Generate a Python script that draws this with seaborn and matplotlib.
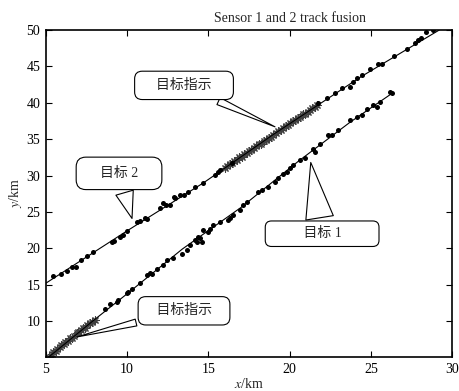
import matplotlib
matplotlib.use("Agg")
import matplotlib.pyplot as plt
import seaborn as sns
import pandas as pd

# fused tracks (knots)
track1_x = [5.15, 8.0, 10.2, 13.4, 17.0, 20.5, 23.7, 26.3]
track1_y = [5.0, 10.2, 14.1, 19.9, 25.6, 31.9, 37.3, 41.3]
track2_x = [5.0, 10.0, 14.7, 19.1, 24.4, 29.2]
track2_y = [15.2, 22.4, 29.0, 35.8, 43.6, 50.0]

# sensor measurements (dots)
t1_dot_x = [8.63, 8.94, 9.35, 9.45, 9.97, 10.07, 10.28, 10.79, 11.2, 11.4, 11.5, 11.82,
            12.22, 12.43, 12.85, 13.36, 13.67, 13.87, 14.17, 14.27, 14.38, 14.48, 14.58,
            14.69, 15.0, 15.1, 15.31, 15.71, 16.22, 16.33, 16.53, 16.94, 17.15, 17.36,
            18.07, 18.28, 18.69, 19.1, 19.31, 19.62, 19.82, 20.02, 20.23, 20.64, 20.95,
            21.46, 21.56, 21.87, 22.38, 22.59, 23.0, 23.72, 24.13, 24.44, 24.74, 25.15,
            25.36, 25.57, 26.18, 26.3]
t1_dot_y = [11.7, 12.4, 12.63, 12.86, 13.78, 14.0, 14.33, 15.16, 16.3, 16.6, 16.5, 17.2,
            17.67, 18.36, 18.6, 19.28, 19.74, 20.43, 21.1, 20.9, 21.57, 21.35, 20.9,
            22.5, 22.25, 22.7, 23.2, 23.64, 23.87, 24.1, 24.56, 25.24, 25.93, 26.4,
            27.76, 28.0, 28.44, 29.13, 29.6, 30.28, 30.5, 30.97, 31.4, 32.1, 32.36,
            33.7, 33.2, 34.4, 35.55, 35.55, 36.24, 37.6, 38.1, 38.3, 39.1, 39.7,
            39.45, 40.14, 41.5, 41.3]
t2_dot_x = [5.45, 5.9, 6.27, 6.58, 6.85, 7.14, 7.51, 7.92, 9.05, 9.19, 9.56, 9.72, 10.0,
            10.58, 10.8, 11.1, 11.24, 12.02, 12.23, 12.39, 12.64, 12.88, 12.96, 13.25,
            13.47, 13.72, 14.17, 14.69, 15.41, 15.61, 15.71, 16.43, 21.77, 22.28, 22.8,
            23.2, 23.72, 23.88, 24.13, 24.44, 24.95, 25.46, 25.67, 26.4, 27.2, 27.7,
            27.9, 28.1, 28.4, 28.85]
t2_dot_y = [16.16, 16.44, 16.9, 17.36, 17.44, 18.36, 18.91, 19.5, 20.88, 21.0, 21.6, 21.8,
            22.4, 23.6, 23.8, 24.1, 24.0, 25.47, 26.2, 26.0, 26.0, 27.07, 26.9, 27.3,
            27.3, 27.8, 28.45, 29.0, 30.06, 30.5, 30.74, 31.66, 39.92, 40.6, 41.3,
            42.0, 42.2, 42.9, 43.35, 43.8, 44.7, 45.3, 45.4, 46.5, 47.4, 48.2,
            48.6, 48.9, 49.7, 50.0]

# target indication (asterisks)
ind1_x = [5.2, 5.35, 5.45, 5.6, 5.7, 5.85, 5.95, 6.1, 6.2, 6.35, 6.5, 6.6, 6.75, 6.9,
          7.0, 7.15, 7.3, 7.4, 7.55, 7.7, 7.85, 8.0]
ind1_y = [5.1, 5.4, 5.7, 5.9, 6.2, 6.4, 6.7, 6.8, 7.1, 7.3, 7.6, 7.7, 8.0, 8.3,
          8.5, 8.7, 9.0, 9.1, 9.4, 9.7, 9.9, 10.2]
ind2_x = [16.0, 16.15, 16.3, 16.45, 16.6, 16.75, 16.9, 17.05, 17.2, 17.35, 17.5, 17.65,
          17.8, 17.95, 18.1, 18.25, 18.4, 18.55, 18.7, 18.85, 19.0, 19.15, 19.3, 19.45,
          19.6, 19.75, 19.9, 20.05, 20.2, 20.35, 20.5, 20.65, 20.8, 20.95, 21.1, 21.25,
          21.4, 21.55, 21.7]
ind2_y = [31.1, 31.3, 31.6, 31.7, 32.0, 32.2, 32.5, 32.6, 32.9, 33.1, 33.4, 33.5,
          33.8, 34.0, 34.3, 34.4, 34.7, 34.9, 35.2, 35.3, 35.6, 35.8, 36.1, 36.2,
          36.5, 36.8, 37.0, 37.2, 37.5, 37.6, 37.9, 38.1, 38.4, 38.5, 38.8, 39.0,
          39.3, 39.4, 39.7]

# callouts: label, box centre, pointed location
callout_labels = ["目标指示", "目标 2", "目标 1", "目标指示"]
callout_box = [(13.5, 42.4), (9.5, 30.3), (22.0, 22.0), (13.5, 11.4)]
callout_tip = [(19.1, 36.7), (10.3, 24.1), (21.3, 31.8), (6.9, 7.8)]
callout_space = [4, 4, 9, 3]
callout_pad = [0.55, 0.7, 0.45, 0.55]
callout_tail = [0.55, 1.3, 2.0, 0.5]

sns.set_style("ticks")
plt.rcParams['font.family'] = ['Liberation Serif', 'Noto Sans CJK SC']
plt.rcParams['mathtext.fontset'] = 'stix'

fig = plt.figure(figsize=(4.59, 3.91), dpi=100)
ax = fig.add_axes([0.100, 0.087, 0.885, 0.836])

sns.lineplot(x=track1_x, y=track1_y, ax=ax, color='black', lw=0.8, sort=False, estimator=None)
sns.lineplot(x=track2_x, y=track2_y, ax=ax, color='black', lw=0.8, sort=False, estimator=None)

sns.scatterplot(x=ind1_x, y=ind1_y, ax=ax, marker=(8, 2, 0), s=28, color='0.25', linewidth=0.8)
sns.scatterplot(x=ind2_x, y=ind2_y, ax=ax, marker=(8, 2, 0), s=28, color='0.25', linewidth=0.8)
sns.scatterplot(x=t1_dot_x, y=t1_dot_y, ax=ax, color='black', s=13, linewidth=0)
sns.scatterplot(x=t2_dot_x, y=t2_dot_y, ax=ax, color='black', s=13, linewidth=0)

for label, box, tip, n, pad, tw in zip(callout_labels, callout_box, callout_tip,
                                       callout_space, callout_pad, callout_tail):
    ax.annotate(" " * n + label + " " * n, xy=tip, xytext=box, ha='center', va='center',
                fontsize=10, zorder=6,
                bbox=dict(boxstyle=f'round,pad={pad}', fc='white', ec='black', lw=0.8),
                arrowprops=dict(arrowstyle=f'wedge,tail_width={tw}', fc='white', ec='black',
                                lw=0.8, shrinkB=0))

ax.set_xlim(5, 30)
ax.set_ylim(5.05, 50)
ax.set_xticks([5, 10, 15, 20, 25, 30])
ax.set_yticks([10, 15, 20, 25, 30, 35, 40, 45, 50])
ax.tick_params(direction='in', top=True, right=True, length=4, width=0.8,
               labelsize=10, pad=4, colors='black')
for sp in ax.spines.values():
    sp.set_linewidth(1.2)
    sp.set_color('black')

ax.set_xlabel('$x$/km', fontsize=10, labelpad=1)
ax.set_ylabel('$y$/km', fontsize=10, labelpad=2)
ax.set_title('Sensor 1 and 2 track fusion', x=0.6, fontsize=10, pad=6)

fig.savefig('out.png', dpi=100)
